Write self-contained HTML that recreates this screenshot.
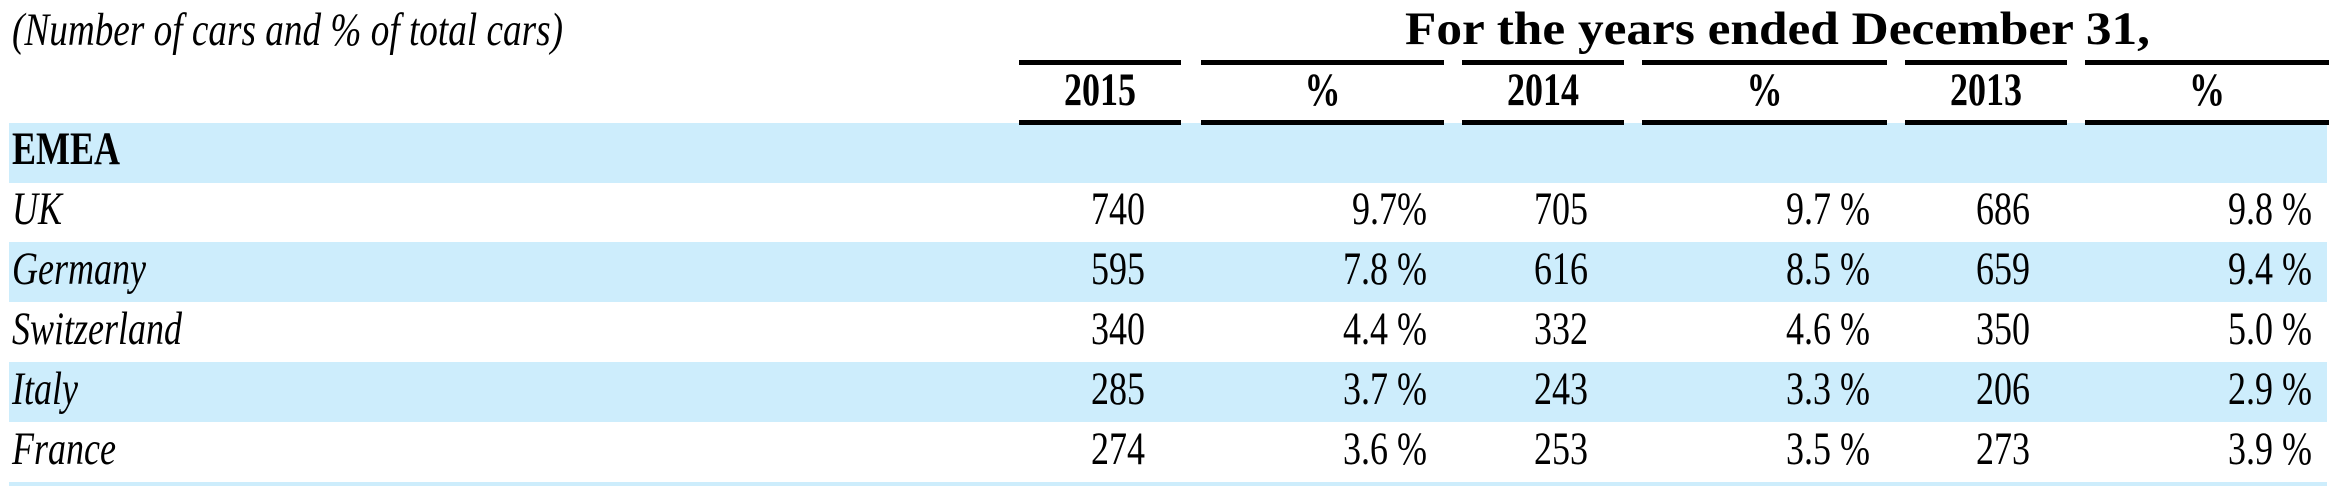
<!DOCTYPE html>
<html><head><meta charset="utf-8"><style>
html,body{margin:0;padding:0;background:#fff;width:2336px;height:486px;overflow:hidden}
svg{display:block}
text{font-family:"Liberation Serif","Times New Roman",serif;font-size:36px;fill:#000}
</style></head><body>
<svg id="tbl" width="2336" height="486" viewBox="0 0 2336 486">
<text transform="translate(12,45) scale(1,1.3)" x="0" y="0" font-style="italic" textLength="551" lengthAdjust="spacingAndGlyphs">(Number of cars and % of total cars)</text>
<text transform="translate(1405,44) scale(1,1.3)" x="0" y="0" font-weight="bold" textLength="745" lengthAdjust="spacingAndGlyphs">For the years ended December 31,</text>
<g id="bands"></g>
<g id="lines"></g>
<g id="cells"></g>
</svg>
<script>
const years = ["2015","%","2014","%","2013","%"];
const countries = ["UK","Germany","Switzerland","Italy","France"];
const cars2015 = ["740","595","340","285","274"];
const pct2015 = ["9.7%","7.8 %","4.4 %","3.7 %","3.6 %"];
const cars2014 = ["705","616","332","243","253"];
const pct2014 = ["9.7 %","8.5 %","4.6 %","3.3 %","3.5 %"];
const cars2013 = ["686","659","350","206","273"];
const pct2013 = ["9.8 %","9.4 %","5.0 %","2.9 %","3.9 %"];

const NS="http://www.w3.org/2000/svg";
const segL=[1019,1201,1462,1642,1905,2085], segR=[1181,1444,1624,1887,2067,2329];
const colRight=[1145,1427,1588,1870,2030,2312];
const rowTop=123, rowH=60, SY=1.3;
function mk(tag,attrs,parent){const e=document.createElementNS(NS,tag);for(const k in attrs)e.setAttribute(k,attrs[k]);parent.appendChild(e);return e;}
function txt(x,y,s,extra,parent){const a=Object.assign({x:0,y:0,transform:'translate('+x+','+y+') scale(1,'+SY+')'},extra);const t=mk('text',a,parent);t.textContent=s;return t;}
const bands=document.getElementById('bands'), lines=document.getElementById('lines'), cells=document.getElementById('cells');
[0,2,4,6].forEach(i=>{
  const top=rowTop+i*rowH-(i?1:0);
  const r=mk('rect',{x:9,y:top,width:2318,height:Math.min(rowH,486-top),fill:'#cdedfc'},bands);
  
  
});
years.forEach((y,i)=>{
  const l1=mk('rect',{x:segL[i],y:60,width:segR[i]-segL[i],height:5,fill:'#000'},lines);
  
  
  const l2=mk('rect',{x:segL[i],y:120,width:segR[i]-segL[i],height:5,fill:'#000'},lines);
  
  
  const t=txt((segL[i]+segR[i])/2,105,y,{'text-anchor':'middle','font-weight':'bold'},cells);
  
  
});
const em=txt(12,164,'EMEA',{'font-weight':'bold'},cells);


const cols=[cars2015,pct2015,cars2014,pct2014,cars2013,pct2013];
countries.forEach((c,r)=>{
  const by=224+r*rowH;
  const t=txt(12,by,c,{'font-style':'italic'},cells);
  
  
  cols.forEach((col,j)=>{
    const v=txt(colRight[j],by,col[r],{'text-anchor':'end'},cells);
    
    
  });
});
</script>
</body></html>
